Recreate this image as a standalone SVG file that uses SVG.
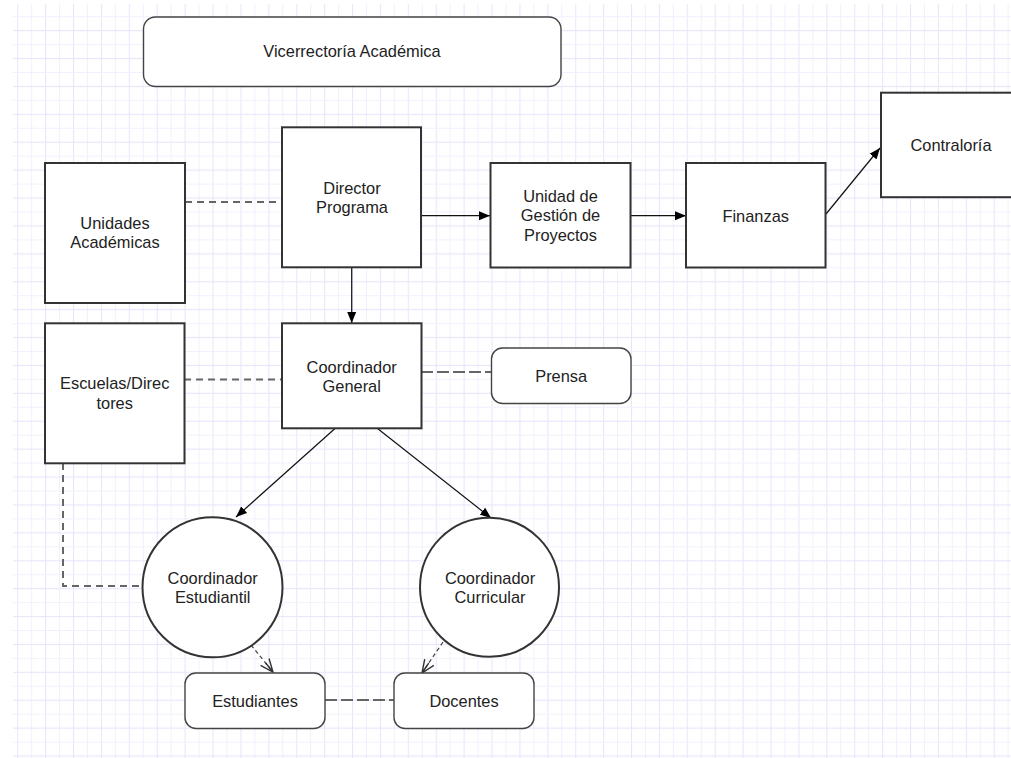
<svg xmlns="http://www.w3.org/2000/svg" width="1011" height="758" viewBox="0 0 1011 758">
<defs>
<pattern id="grid" patternUnits="userSpaceOnUse" x="17.2" y="16.2" width="27.9" height="27.9">
<line x1="0.5" y1="0" x2="0.5" y2="27.9" stroke="#e9e6fb" stroke-width="1.2"/>
<line x1="14.45" y1="0" x2="14.45" y2="27.9" stroke="#f2f0fd" stroke-width="1"/>
<line x1="0" y1="0.5" x2="27.9" y2="0.5" stroke="#f2f0fd" stroke-width="1"/>
<line x1="0" y1="14.45" x2="27.9" y2="14.45" stroke="#e9e6fb" stroke-width="1.2"/>
</pattern>
<marker id="arr" markerUnits="userSpaceOnUse" markerWidth="12" markerHeight="10" refX="11" refY="5" orient="auto">
<path d="M0,0.5 L11,5 L0,9.5 Z" fill="#000"/>
</marker>
<marker id="open" markerUnits="userSpaceOnUse" markerWidth="16" markerHeight="14" refX="14" refY="7" orient="auto">
<path d="M1,1.5 L14,7 L1,12.5 M2,7 L14,7" fill="none" stroke="#333" stroke-width="1.4"/>
</marker>
</defs>
<style>
.box{fill:#fff;stroke:#333;stroke-width:2}
.rbox{fill:#fff;stroke:#444;stroke-width:1.4}
.t{font-family:"Liberation Sans",Arial,Helvetica,sans-serif;font-size:16.4px;fill:#222;text-anchor:middle}
.solid{fill:none;stroke:#111;stroke-width:1.2}
.dash{fill:none;stroke:#666;stroke-width:2;stroke-dasharray:7 5}
.ldash{fill:none;stroke:#666;stroke-width:2.2;stroke-dasharray:12 4}
.odash{fill:none;stroke:#444;stroke-width:1.2;stroke-dasharray:4 3}
</style>
<rect x="0" y="0" width="1011" height="758" fill="#fff"/>
<rect x="13" y="4" width="998" height="754" fill="url(#grid)"/>

<g id="connectors">
<line class="dash" x1="185" y1="202" x2="282" y2="202"/>
<line class="dash" x1="184" y1="379.5" x2="282" y2="379.5"/>
<line class="ldash" x1="421" y1="372" x2="491" y2="372"/>
<polyline class="dash" points="63,463 63,586 142.5,586"/>
<line class="ldash" x1="325" y1="700" x2="394" y2="700"/>
<line class="solid" x1="421" y1="215.7" x2="490" y2="215.7" marker-end="url(#arr)"/>
<line class="solid" x1="630" y1="215.7" x2="686" y2="215.7" marker-end="url(#arr)"/>
<line class="solid" x1="826" y1="214" x2="880" y2="148" marker-end="url(#arr)"/>
<line class="solid" x1="351.7" y1="267" x2="351.7" y2="323" marker-end="url(#arr)"/>
<line class="solid" x1="335.3" y1="428.3" x2="236" y2="517" marker-end="url(#arr)"/>
<line class="solid" x1="377.2" y1="428.3" x2="491" y2="518" marker-end="url(#arr)"/>
<line class="odash" x1="251" y1="645" x2="273" y2="672" marker-end="url(#open)"/>
<line class="odash" x1="443" y1="642" x2="422" y2="673" marker-end="url(#open)"/>
</g>

<g id="vicerrectoria">
<rect class="rbox" x="143.5" y="17" width="417.5" height="69.5" rx="12"/>
<text class="t" x="352" y="57">Vicerrectoría Académica</text>
</g>
<g id="unidades-academicas">
<rect class="box" x="45" y="163" width="140" height="140"/>
<text class="t" x="115" y="229">Unidades</text>
<text class="t" x="115" y="248.4">Académicas</text>
</g>
<g id="director-programa">
<rect class="box" x="282" y="127.3" width="139" height="140"/>
<text class="t" x="352" y="193.5">Director</text>
<text class="t" x="352" y="212.9">Programa</text>
</g>
<g id="unidad-gestion">
<rect class="box" x="490.5" y="163" width="140" height="104.5"/>
<text class="t" x="560.5" y="202">Unidad de</text>
<text class="t" x="560.5" y="221.4">Gestión de</text>
<text class="t" x="560.5" y="240.8">Proyectos</text>
</g>
<g id="finanzas">
<rect class="box" x="686" y="163" width="139.5" height="104.5"/>
<text class="t" x="755.7" y="221.5">Finanzas</text>
</g>
<g id="contraloria">
<rect class="box" x="881" y="92.7" width="140" height="104.5"/>
<text class="t" x="951" y="151">Contraloría</text>
</g>
<g id="escuelas-directores">
<rect class="box" x="45" y="323.3" width="139.5" height="140"/>
<text class="t" x="114.7" y="389.4">Escuelas/Direc</text>
<text class="t" x="114.7" y="408.8">tores</text>
</g>
<g id="coordinador-general">
<rect class="box" x="282" y="323.3" width="139.5" height="105"/>
<text class="t" x="351.7" y="372.5">Coordinador</text>
<text class="t" x="351.7" y="391.9">General</text>
</g>
<g id="prensa">
<rect class="rbox" x="491.5" y="348" width="139.5" height="55.5" rx="11"/>
<text class="t" x="561.2" y="381.5">Prensa</text>
</g>
<g id="coordinador-estudiantil">
<circle class="box" cx="212.5" cy="587.3" r="70"/>
<text class="t" x="212.7" y="583.6">Coordinador</text>
<text class="t" x="212.7" y="603">Estudiantil</text>
</g>
<g id="coordinador-curricular">
<circle class="box" cx="489.5" cy="587.3" r="69.5"/>
<text class="t" x="490" y="583.6">Coordinador</text>
<text class="t" x="490" y="603">Curricular</text>
</g>
<g id="estudiantes">
<rect class="rbox" x="185" y="673" width="140" height="55.5" rx="11"/>
<text class="t" x="255" y="706.5">Estudiantes</text>
</g>
<g id="docentes">
<rect class="rbox" x="394" y="673" width="140" height="55.5" rx="11"/>
<text class="t" x="464" y="706.5">Docentes</text>
</g>
</svg>
